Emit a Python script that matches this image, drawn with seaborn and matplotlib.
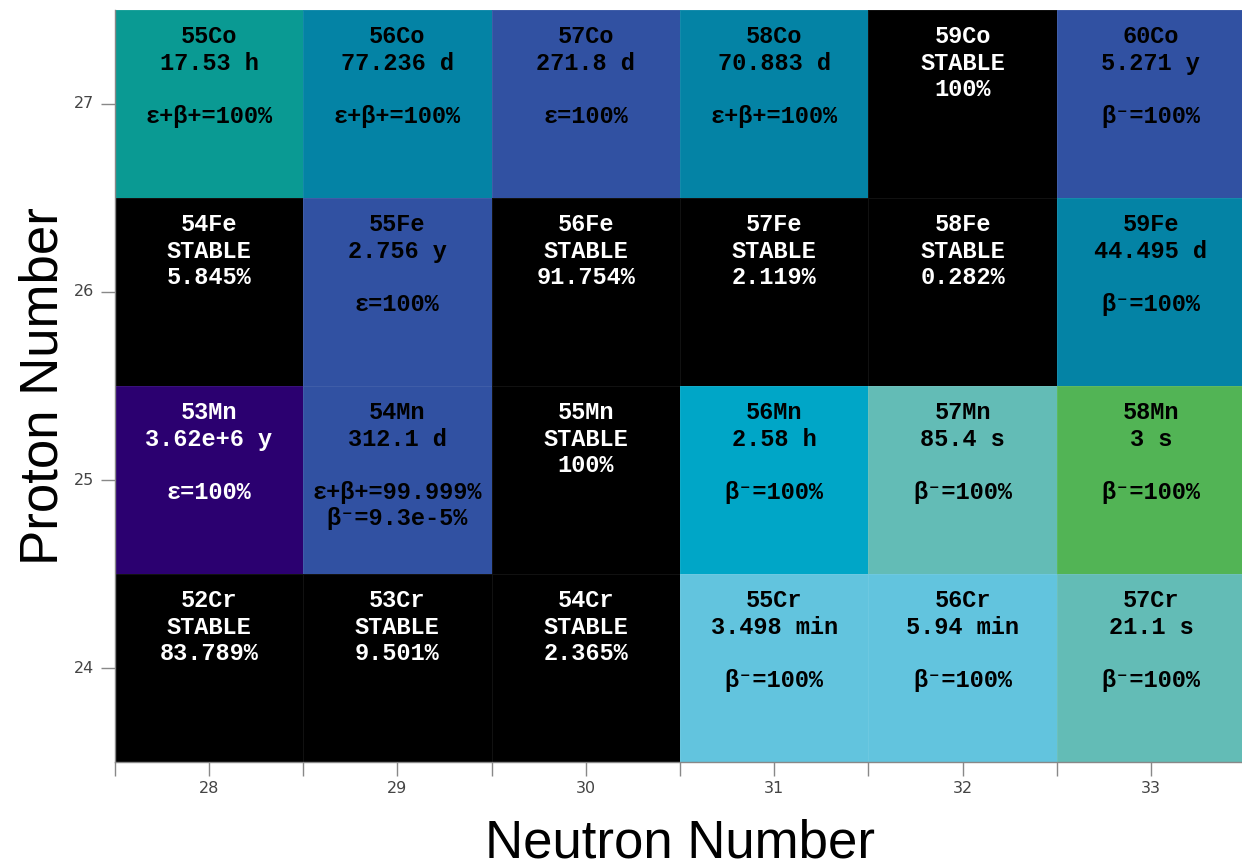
import numpy as np
import seaborn as sns
import matplotlib.pyplot as plt
from matplotlib.colors import ListedColormap, to_rgb

neutrons = [28, 29, 30, 31, 32, 33]
protons = [27, 26, 25, 24]  # top row first

names = [
    ["55Co", "56Co", "57Co", "58Co", "59Co", "60Co"],
    ["54Fe", "55Fe", "56Fe", "57Fe", "58Fe", "59Fe"],
    ["53Mn", "54Mn", "55Mn", "56Mn", "57Mn", "58Mn"],
    ["52Cr", "53Cr", "54Cr", "55Cr", "56Cr", "57Cr"],
]
half_lives = [
    ["17.53 h", "77.236 d", "271.8 d", "70.883 d", "STABLE", "5.271 y"],
    ["STABLE", "2.756 y", "STABLE", "STABLE", "STABLE", "44.495 d"],
    ["3.62e+6 y", "312.1 d", "STABLE", "2.58 h", "85.4 s", "3 s"],
    ["STABLE", "STABLE", "STABLE", "3.498 min", "5.94 min", "21.1 s"],
]
abundances = [
    ["", "", "", "", "100%", ""],
    ["5.845%", "", "91.754%", "2.119%", "0.282%", ""],
    ["", "", "100%", "", "", ""],
    ["83.789%", "9.501%", "2.365%", "", "", ""],
]
decays = [
    ["ε+β+=100%", "ε+β+=100%", "ε=100%", "ε+β+=100%", "", "β⁻=100%"],
    ["", "ε=100%", "", "", "", "β⁻=100%"],
    ["ε=100%", "ε+β+=99.999%\nβ⁻=9.3e-5%", "", "β⁻=100%", "β⁻=100%", "β⁻=100%"],
    ["", "", "", "β⁻=100%", "β⁻=100%", "β⁻=100%"],
]
cell_colors = [
    ["#0A9A93", "#0483A5", "#3151A2", "#0483A5", "#000000", "#3151A2"],
    ["#000000", "#3151A2", "#000000", "#000000", "#000000", "#0483A5"],
    ["#2B0070", "#3151A2", "#000000", "#00A6C7", "#63BCB6", "#52B455"],
    ["#000000", "#000000", "#000000", "#62C4DE", "#62C4DE", "#63BCB6"],
]

# map colours to indices for a listed colormap
palette = []
for row in cell_colors:
    for c in row:
        if c not in palette:
            palette.append(c)
idx = np.array([[palette.index(c) for c in row] for row in cell_colors])

fig = plt.figure(figsize=(12.42, 8.68), dpi=100)
ax = fig.add_axes([0.0924, 0.1221, 0.9101, 0.8664])
sns.heatmap(idx, cmap=ListedColormap(palette), vmin=-0.5, vmax=len(palette) - 0.5,
            cbar=False, linewidths=0.5, linecolor=(1, 1, 1, 0.07), ax=ax)

mono = ["Liberation Mono", "DejaVu Sans Mono"]
for i in range(len(protons)):
    for j in range(len(neutrons)):
        if half_lives[i][j] == "STABLE":
            label = names[i][j] + "\nSTABLE\n" + abundances[i][j]
        else:
            label = names[i][j] + "\n" + half_lives[i][j] + "\n\n" + decays[i][j]
        r, g, b = to_rgb(cell_colors[i][j])
        lum = 0.299 * r + 0.587 * g + 0.114 * b
        tc = "white" if lum < 0.2 else "black"
        ax.text(j + 0.5, i + 0.08, label, ha="center", va="top", color=tc,
                family=mono, fontweight="bold", fontsize=17, linespacing=1.2)

ax.set_xticks(np.arange(len(neutrons)) + 0.5)
ax.set_xticklabels(neutrons, rotation=0)
ax.set_xticks(np.arange(len(neutrons) + 1), minor=True)
ax.set_yticks(np.arange(len(protons)) + 0.5)
ax.set_yticklabels(protons, rotation=0)
ax.tick_params(axis="x", which="both", length=10, width=1, color="#888888",
               labelsize=11.5, labelcolor="#444444", pad=4)
ax.tick_params(axis="y", length=10, width=1, color="#888888",
               labelsize=11.5, labelcolor="#444444", pad=5)
for s in ["left", "bottom"]:
    ax.spines[s].set_visible(True)
    ax.spines[s].set_color("#888888")
    ax.spines[s].set_linewidth(1)

ax.set_xlabel("Neutron Number", fontsize=38, family="Liberation Sans", labelpad=16)
ax.set_ylabel("Proton Number", fontsize=38, family="Liberation Sans", labelpad=4)

fig.savefig("out.png", dpi=100)
